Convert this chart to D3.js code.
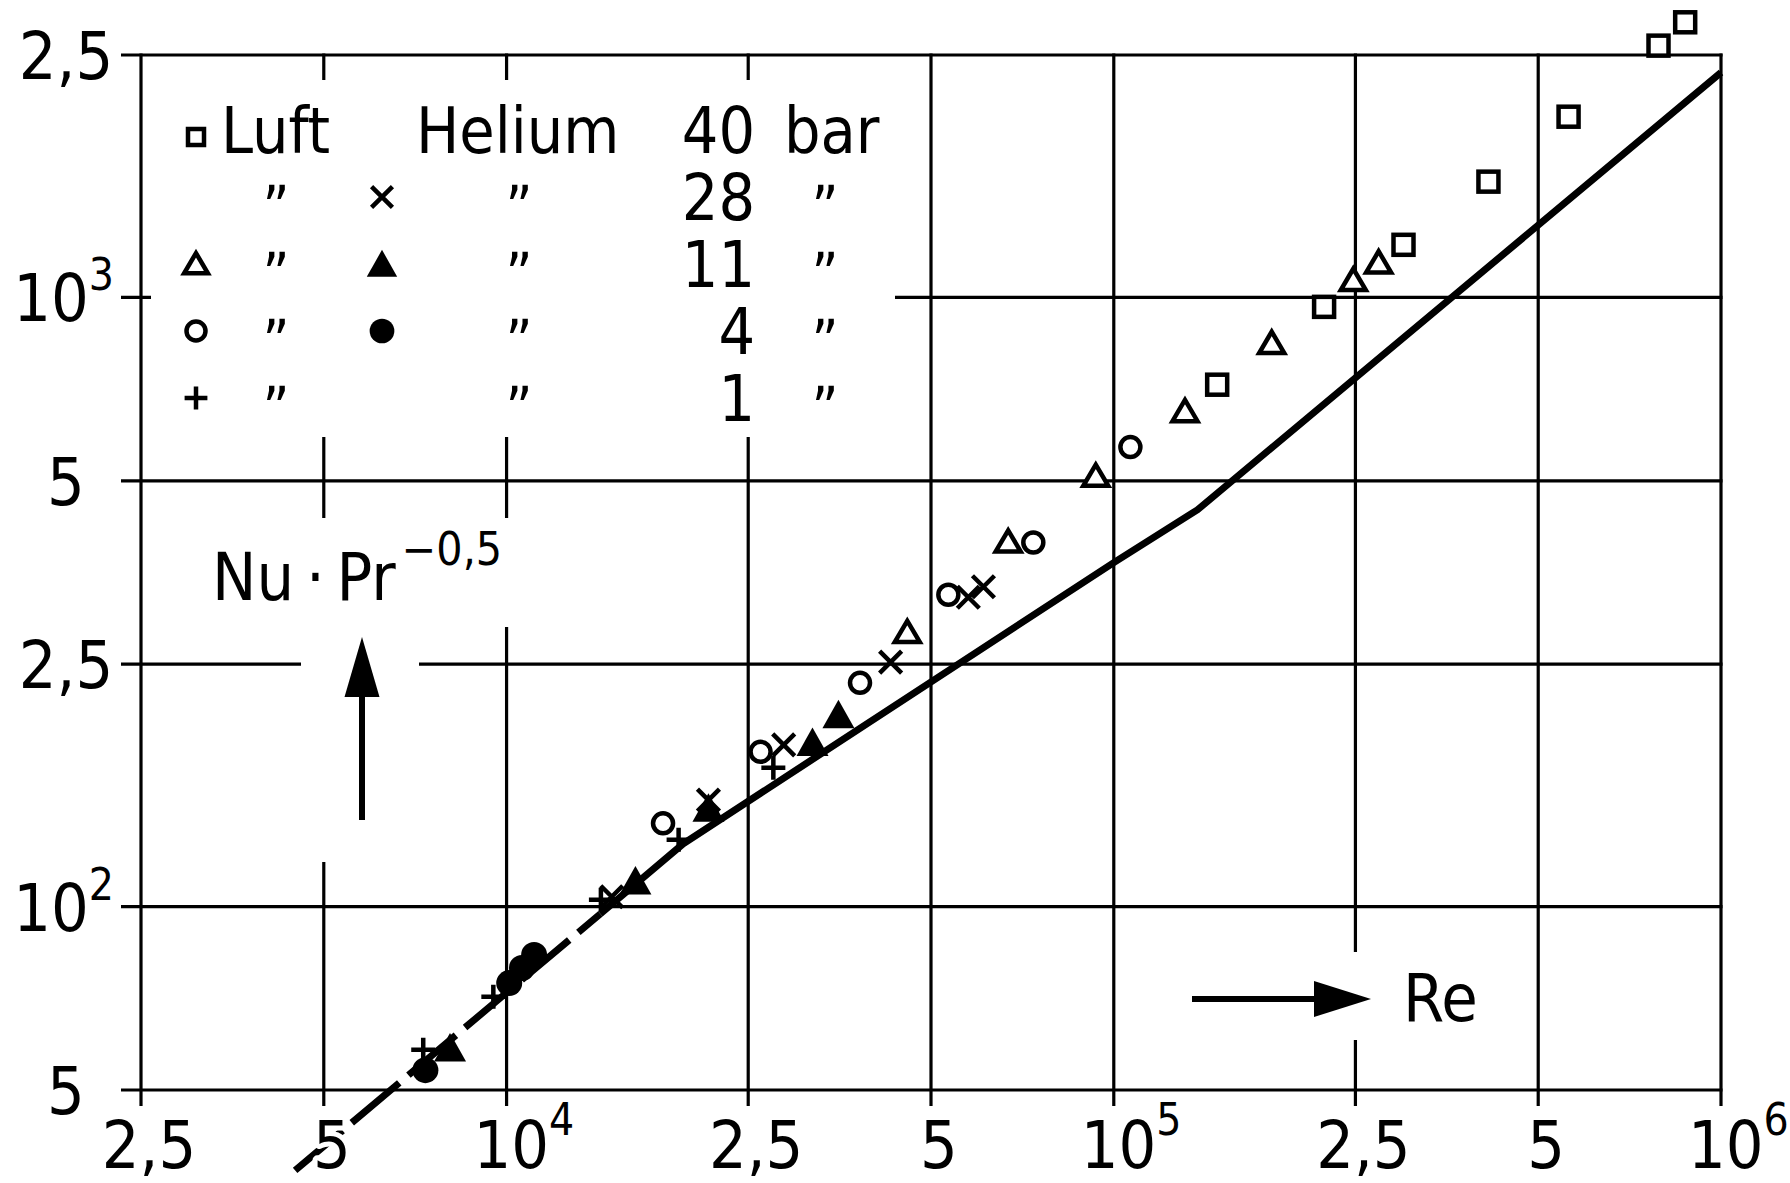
<!DOCTYPE html>
<html>
<head>
<meta charset="utf-8">
<script src="https://cdn.jsdelivr.net/npm/d3@7"></script>
<style>
  body { margin: 0; background: #fff; }
  svg text { font-family: "DejaVu Sans Condensed", "DejaVu Sans", sans-serif; font-stretch: condensed; fill: #000; }
</style>
</head>
<body>
<svg id="chart" width="1790" height="1183"></svg>
<script>
// log axes, tick values
const xTicks = [2500, 5000, 1e4, 2.5e4, 5e4, 1e5, 2.5e5, 5e5, 1e6];
const yTicks = [50, 100, 250, 500, 1000, 2500];

// measured points, Re vs Nu*Pr^-0.5
// Luft 40 bar
const luft40Re = [1.48e5, 2.22e5, 3.0e5, 4.14e5, 5.61e5, 7.89e5, 8.73e5];
const luft40Nu = [719, 965, 1220, 1549, 1980, 2590, 2829];
// Luft 11 bar
const luft11Re = [4.57e4, 6.70e4, 9.34e4, 1.31e5, 1.82e5, 2.48e5, 2.73e5];
const luft11Nu = [282, 397, 509, 650, 841, 1067, 1140];
// Luft 4 bar
const luft4Re = [1.81e4, 2.62e4, 3.82e4, 5.34e4, 7.37e4, 1.065e5];
const luft4Nu = [137, 179.5, 233, 325, 396, 568];
// Luft 1 bar
const luft1Re = [7290, 9510, 1.43e4, 1.92e4, 2.75e4];
const luft1Nu = [58.2, 71.1, 102.6, 128.7, 169];
// Helium 28 bar
const he28Re = [1.49e4, 2.15e4, 2.86e4, 4.29e4, 5.76e4, 6.1e4];
const he28Nu = [103.8, 149.6, 184.3, 252, 322, 335];
// Helium 11 bar
const he11Re = [8070, 1.63e4, 2.15e4, 3.19e4, 3.52e4];
const he11Nu = [58.6, 110.2, 145, 186, 206.5];
// Helium 4 bar
const he4Re = [7350, 1.01e4, 1.06e4, 1.11e4];
const he4Nu = [53.9, 74.9, 79.3, 83.3];

// reference curve (first segment dashed)
const curveRe = [4485, 14270, 19540, 99840, 137300, 1e6];
const curveNu = [36.9, 97.3, 126.8, 366.7, 448, 2340];
const curveDashedTo = 1;

// legend rows
const legendPressure = ["40", "28", "11", "4", "1"];
const legendLuft = ["square", null, "triangle", "circle", "plus"];
const legendHelium = [null, "cross", "triangleFilled", "circleFilled", null];

const series = [
  { re: luft40Re, nu: luft40Nu, sym: "square" },
  { re: luft11Re, nu: luft11Nu, sym: "triangle" },
  { re: luft4Re, nu: luft4Nu, sym: "circle" },
  { re: luft1Re, nu: luft1Nu, sym: "plus" },
  { re: he28Re, nu: he28Nu, sym: "cross" },
  { re: he11Re, nu: he11Nu, sym: "triangleFilled" },
  { re: he4Re, nu: he4Nu, sym: "circleFilled" }
];

var svg = d3.select("#chart");
svg.append("rect").attr("width", 1790).attr("height", 1183).attr("fill", "#fff");

var x = d3.scaleLog().domain(d3.extent(xTicks)).range([141, 1721]);
var y = d3.scaleLog().domain(d3.extent(yTicks)).range([1090, 55]);

// grid lines (frame is the outer ones), ticks stick out left and below
var grid = svg.append("g").attr("stroke", "#000").attr("stroke-width", 3.2);
grid.selectAll("line.v").data(xTicks).join("line").attr("class", "v")
  .attr("x1", d => x(d)).attr("x2", d => x(d))
  .attr("y1", y(2500) - 1.5).attr("y2", y(50) + 16);
grid.selectAll("line.h").data(yTicks).join("line").attr("class", "h")
  .attr("x1", x(2500) - 20).attr("x2", x(1e6) + 1.5)
  .attr("y1", d => y(d)).attr("y2", d => y(d));

// white patches where the grid is broken for legend and axis titles
var knock = svg.append("g").attr("fill", "#fff");
[[151, 80, 744, 357], [200, 518, 320, 109], [301, 627, 118, 235], [1180, 952, 320, 88]]
  .forEach(r => knock.append("rect").attr("x", r[0]).attr("y", r[1]).attr("width", r[2]).attr("height", r[3]));

// curve
var curvePts = d3.zip(curveRe, curveNu);
var line = d3.line().x(d => x(d[0])).y(d => y(d[1]));
svg.append("path")
  .attr("d", line(curvePts.slice(0, curveDashedTo + 1)))
  .attr("fill", "none").attr("stroke", "#000").attr("stroke-width", 7)
  .attr("stroke-dasharray", "62 12");
svg.append("path")
  .attr("d", line(curvePts.slice(curveDashedTo)))
  .attr("fill", "none").attr("stroke", "#000").attr("stroke-width", 7)
  .attr("stroke-linejoin", "round");

function drawSymbol(g, type, cx, cy, k) {
  k = k || 1;
  var sw = 4.5;
  if (type == "square") {
    var s = 20 * k;
    g.append("rect").attr("x", cx - s / 2).attr("y", cy - s / 2).attr("width", s).attr("height", s)
      .attr("fill", "#fff").attr("stroke", "#000").attr("stroke-width", sw);
  } else if (type == "triangle") {
    var w = 12.5 * k, h = 11.5 * k;
    g.append("path").attr("d", `M${cx},${cy - h}L${cx - w},${cy + h * 0.85}L${cx + w},${cy + h * 0.85}Z`)
      .attr("fill", "#fff").attr("stroke", "#000").attr("stroke-width", sw).attr("stroke-linejoin", "miter");
  } else if (type == "triangleFilled") {
    var w2 = 16 * k, h2 = 15 * k;
    g.append("path").attr("d", `M${cx},${cy - h2}L${cx - w2},${cy + h2 * 0.9}L${cx + w2},${cy + h2 * 0.9}Z`)
      .attr("fill", "#000");
  } else if (type == "circle") {
    g.append("circle").attr("cx", cx).attr("cy", cy).attr("r", 10 * k)
      .attr("fill", "#fff").attr("stroke", "#000").attr("stroke-width", sw);
  } else if (type == "circleFilled") {
    g.append("circle").attr("cx", cx).attr("cy", cy).attr("r", 13 * k).attr("fill", "#000");
  } else if (type == "cross") {
    var a = 11 * k;
    g.append("path").attr("d", `M${cx - a},${cy - a}L${cx + a},${cy + a}M${cx - a},${cy + a}L${cx + a},${cy - a}`)
      .attr("stroke", "#000").attr("stroke-width", sw);
  } else if (type == "plus") {
    var p = 12 * k;
    g.append("path").attr("d", `M${cx - p},${cy}L${cx + p},${cy}M${cx},${cy - p}L${cx},${cy + p}`)
      .attr("stroke", "#000").attr("stroke-width", sw);
  }
}

// data markers
var marks = svg.append("g");
series.forEach(s => {
  d3.zip(s.re, s.nu).forEach(d => drawSymbol(marks, s.sym, x(d[0]), y(d[1])));
});

// tick labels
function tickText(sel, v, supSize, supDy) {
  var e = Math.log10(v);
  if (Math.abs(e - Math.round(e)) < 1e-9) {
    sel.text("10").append("tspan").attr("dy", supDy).attr("font-size", supSize).text(Math.round(e));
  } else {
    sel.text(String(v / Math.pow(10, Math.floor(e))).replace(".", ","));
  }
}
var labels = svg.append("g").attr("font-size", 66)
  .style("paint-order", "stroke").attr("stroke", "#fff").attr("stroke-width", 10).attr("stroke-linejoin", "round");
xTicks.forEach(v => {
  var pow = Math.abs(Math.log10(v) - Math.round(Math.log10(v))) < 1e-9;
  var t = labels.append("text")
    .attr("x", pow ? x(v) - 33 : x(v) + 8).attr("y", 1168)
    .attr("text-anchor", pow ? "start" : "middle");
  tickText(t, v, 44, -33);
});
yTicks.forEach(v => {
  var pow = Math.abs(Math.log10(v) - Math.round(Math.log10(v))) < 1e-9;
  var t = labels.append("text")
    .attr("x", pow ? 114 : 66).attr("y", y(v) + 24)
    .attr("text-anchor", pow ? "end" : "middle");
  tickText(t, v, 44, -31);
});

// legend
var legend = svg.append("g").attr("font-size", 64);
var rowY0 = 153, rowGap = 67;
legendPressure.forEach((p, i) => {
  var by = rowY0 + i * rowGap;
  if (legendLuft[i]) drawSymbol(legend, legendLuft[i], 196, by - (i == 0 ? 16 : 23), i == 0 ? 0.8 : 0.95);
  if (legendHelium[i]) drawSymbol(legend, legendHelium[i], 382, by - 23, 0.95);
  legend.append("text").attr("x", 755).attr("y", by).attr("text-anchor", "end").text(p);
  if (i == 0) {
    legend.append("text").attr("x", 221).attr("y", by).text("Luft");
    legend.append("text").attr("x", 416).attr("y", by).text("Helium");
    legend.append("text").attr("x", 784).attr("y", by).text("bar");
  } else {
    [276, 519, 825].forEach(cx => legend.append("text")
      .attr("x", cx).attr("y", by + 8).attr("text-anchor", "middle").attr("font-size", 58).text("\u201D"));
  }
});

// axis titles with arrows
var ann = svg.append("g");
var yt = ann.append("text").attr("x", 212).attr("y", 600).attr("font-size", 66).text("Nu\u2009\u00B7\u2009Pr");
yt.append("tspan").attr("dy", -35).attr("dx", 6).attr("font-size", 46).text("\u22120,5");
ann.append("line").attr("x1", 362).attr("x2", 362).attr("y1", 820).attr("y2", 690)
  .attr("stroke", "#000").attr("stroke-width", 6);
ann.append("path").attr("d", "M362,637L344.5,697L379.5,697Z").attr("fill", "#000");

ann.append("line").attr("x1", 1192).attr("x2", 1320).attr("y1", 999).attr("y2", 999)
  .attr("stroke", "#000").attr("stroke-width", 6);
ann.append("path").attr("d", "M1371,999L1314,981L1314,1017Z").attr("fill", "#000");
ann.append("text").attr("x", 1403).attr("y", 1021).attr("font-size", 66).text("Re");
</script>
</body>
</html>
